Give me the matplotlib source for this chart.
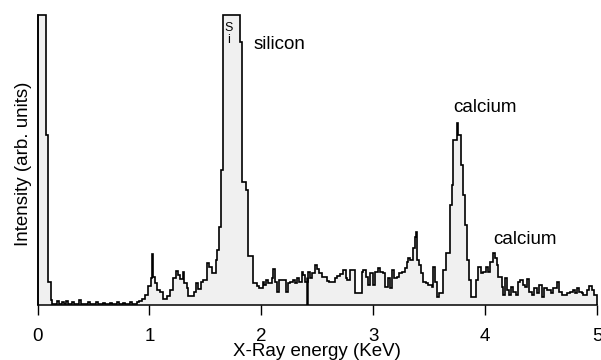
# X-ray (EDX) spectrum with silicon and calcium peaks
import numpy as np
import matplotlib.pyplot as plt

plt.rcParams['font.family'] = ['Liberation Sans', 'DejaVu Sans']

# bin edges (keV) and intensity of each bin (arb. units, peaks saturate at 290)
edges = [0.000, 0.076, 0.097, 0.118, 0.134, 0.170, 0.188, 0.219, 0.237, 0.255,
         0.273, 0.308, 0.326, 0.371, 0.389, 0.451, 0.469, 0.523, 0.541, 0.585,
         0.603, 0.648, 0.666, 0.710, 0.728, 0.764, 0.782, 0.827, 0.845, 0.889,
         0.907, 0.931, 0.961, 0.990, 1.012, 1.023, 1.035, 1.050, 1.065, 1.095,
         1.124, 1.160, 1.184, 1.208, 1.238, 1.258, 1.273, 1.298, 1.312, 1.333,
         1.348, 1.399, 1.416, 1.432, 1.461, 1.482, 1.512, 1.533, 1.557, 1.591,
         1.604, 1.618, 1.637, 1.655, 1.814, 1.832, 1.859, 1.881, 1.923, 1.964,
         1.982, 2.013, 2.024, 2.042, 2.063, 2.093, 2.107, 2.122, 2.143, 2.161,
         2.221, 2.241, 2.256, 2.281, 2.301, 2.322, 2.340, 2.361, 2.375, 2.391,
         2.420, 2.435, 2.450, 2.480, 2.495, 2.516, 2.540, 2.584, 2.608, 2.659,
         2.679, 2.703, 2.727, 2.757, 2.769, 2.793, 2.837, 2.897, 2.912, 2.936,
         2.956, 2.971, 2.996, 3.016, 3.046, 3.061, 3.085, 3.105, 3.135, 3.150,
         3.165, 3.186, 3.210, 3.233, 3.255, 3.284, 3.299, 3.314, 3.329, 3.353,
         3.374, 3.383, 3.394, 3.409, 3.427, 3.448, 3.472, 3.492, 3.523, 3.537,
         3.552, 3.573, 3.591, 3.621, 3.651, 3.686, 3.702, 3.711, 3.746, 3.761,
         3.785, 3.803, 3.820, 3.841, 3.859, 3.871, 3.919, 3.939, 3.961, 3.984,
         4.008, 4.029, 4.044, 4.073, 4.088, 4.104, 4.118, 4.148, 4.163, 4.178,
         4.193, 4.216, 4.232, 4.252, 4.276, 4.297, 4.312, 4.336, 4.357, 4.377,
         4.392, 4.416, 4.437, 4.461, 4.484, 4.506, 4.526, 4.551, 4.589, 4.610,
         4.640, 4.663, 4.685, 4.735, 4.759, 4.783, 4.803, 4.824, 4.842, 4.863,
         4.878, 4.908, 4.931, 4.953, 4.973, 5.000]

counts = [290, 170, 23, 5, 1, 4, 1, 3, 1, 4,
          1, 3, 1, 5, 1, 3, 1, 3, 1, 2,
          1, 2, 1, 3, 1, 2, 1, 3, 1, 3,
          4, 6, 10, 19, 27, 51, 28, 22, 15, 13,
          6, 9, 15, 27, 34, 30, 26, 33, 22, 17,
          9, 13, 22, 16, 23, 25, 42, 38, 32, 45,
          55, 78, 135, 290, 263, 123, 115, 49, 22, 19,
          17, 23, 20, 25, 22, 27, 36, 23, 13, 25,
          13, 22, 23, 25, 22, 27, 23, 33, 30, 23,
          33, 27, 32, 40, 36, 32, 28, 24, 23, 27,
          29, 31, 35, 27, 25, 35, 12, 33, 35, 28,
          20, 32, 20, 33, 37, 33, 32, 18, 27, 17,
          35, 27, 28, 32, 33, 37, 43, 47, 45, 57,
          68, 73, 45, 40, 32, 23, 22, 20, 18, 38,
          23, 8, 12, 35, 52, 100, 120, 165, 182, 170,
          140, 110, 80, 45, 25, 8, 25, 38, 32, 33,
          38, 33, 43, 52, 47, 40, 28, 18, 10, 27,
          15, 10, 18, 13, 10, 23, 25, 20, 18, 26,
          13, 10, 17, 12, 20, 8, 17, 15, 12, 17,
          23, 13, 10, 12, 13, 15, 12, 17, 13, 12,
          10, 15, 19, 15, 10]

# dark cursor line in the spectrum
cursor_kev = 2.411
cursor_top = 28

fig = plt.figure(figsize=(6.01, 3.6), dpi=100)
ax = fig.add_axes([0.0624, 0.1528, 0.9309, 0.8055])

ax.stairs(counts, edges, fill=True, color='#f0f0f0', lw=0)
ax.stairs(counts, edges, color='black', lw=1.2, baseline=0, clip_on=False)
ax.vlines(cursor_kev, 0, cursor_top, color='black', lw=1.8)

ax.text(2.16, 261, 'silicon', fontsize=13.5, ha='center', va='center')
ax.text(4.00, 198, 'calcium', fontsize=13.5, ha='center', va='center')
ax.text(4.36, 65, 'calcium', fontsize=13.5, ha='center', va='center')
ax.text(1.71, 271, 'S\ni', fontsize=9, ha='center', va='center', linespacing=1.0)

ax.set_xlim(0, 5)
ax.set_ylim(0, 290)
ax.set_xticks(np.arange(0, 6, 1))
ax.set_yticks([])
ax.tick_params(axis='x', direction='out', length=7.5, width=1, pad=9, labelsize=13.5)
ax.spines['top'].set_visible(False)
ax.spines['right'].set_visible(False)
ax.spines['left'].set_linewidth(1.1)
ax.spines['bottom'].set_linewidth(1.1)

fig.text(0.0624 + 0.9309 / 2, 1 - 356 / 360, 'X-Ray energy (KeV)', fontsize=13.5,
         ha='center', va='baseline')
fig.text(24 / 601, 1 - 164 / 360, 'Intensity (arb. units)', fontsize=13.5,
         rotation=90, ha='center', va='center')

plt.savefig('out.png', dpi=100)
